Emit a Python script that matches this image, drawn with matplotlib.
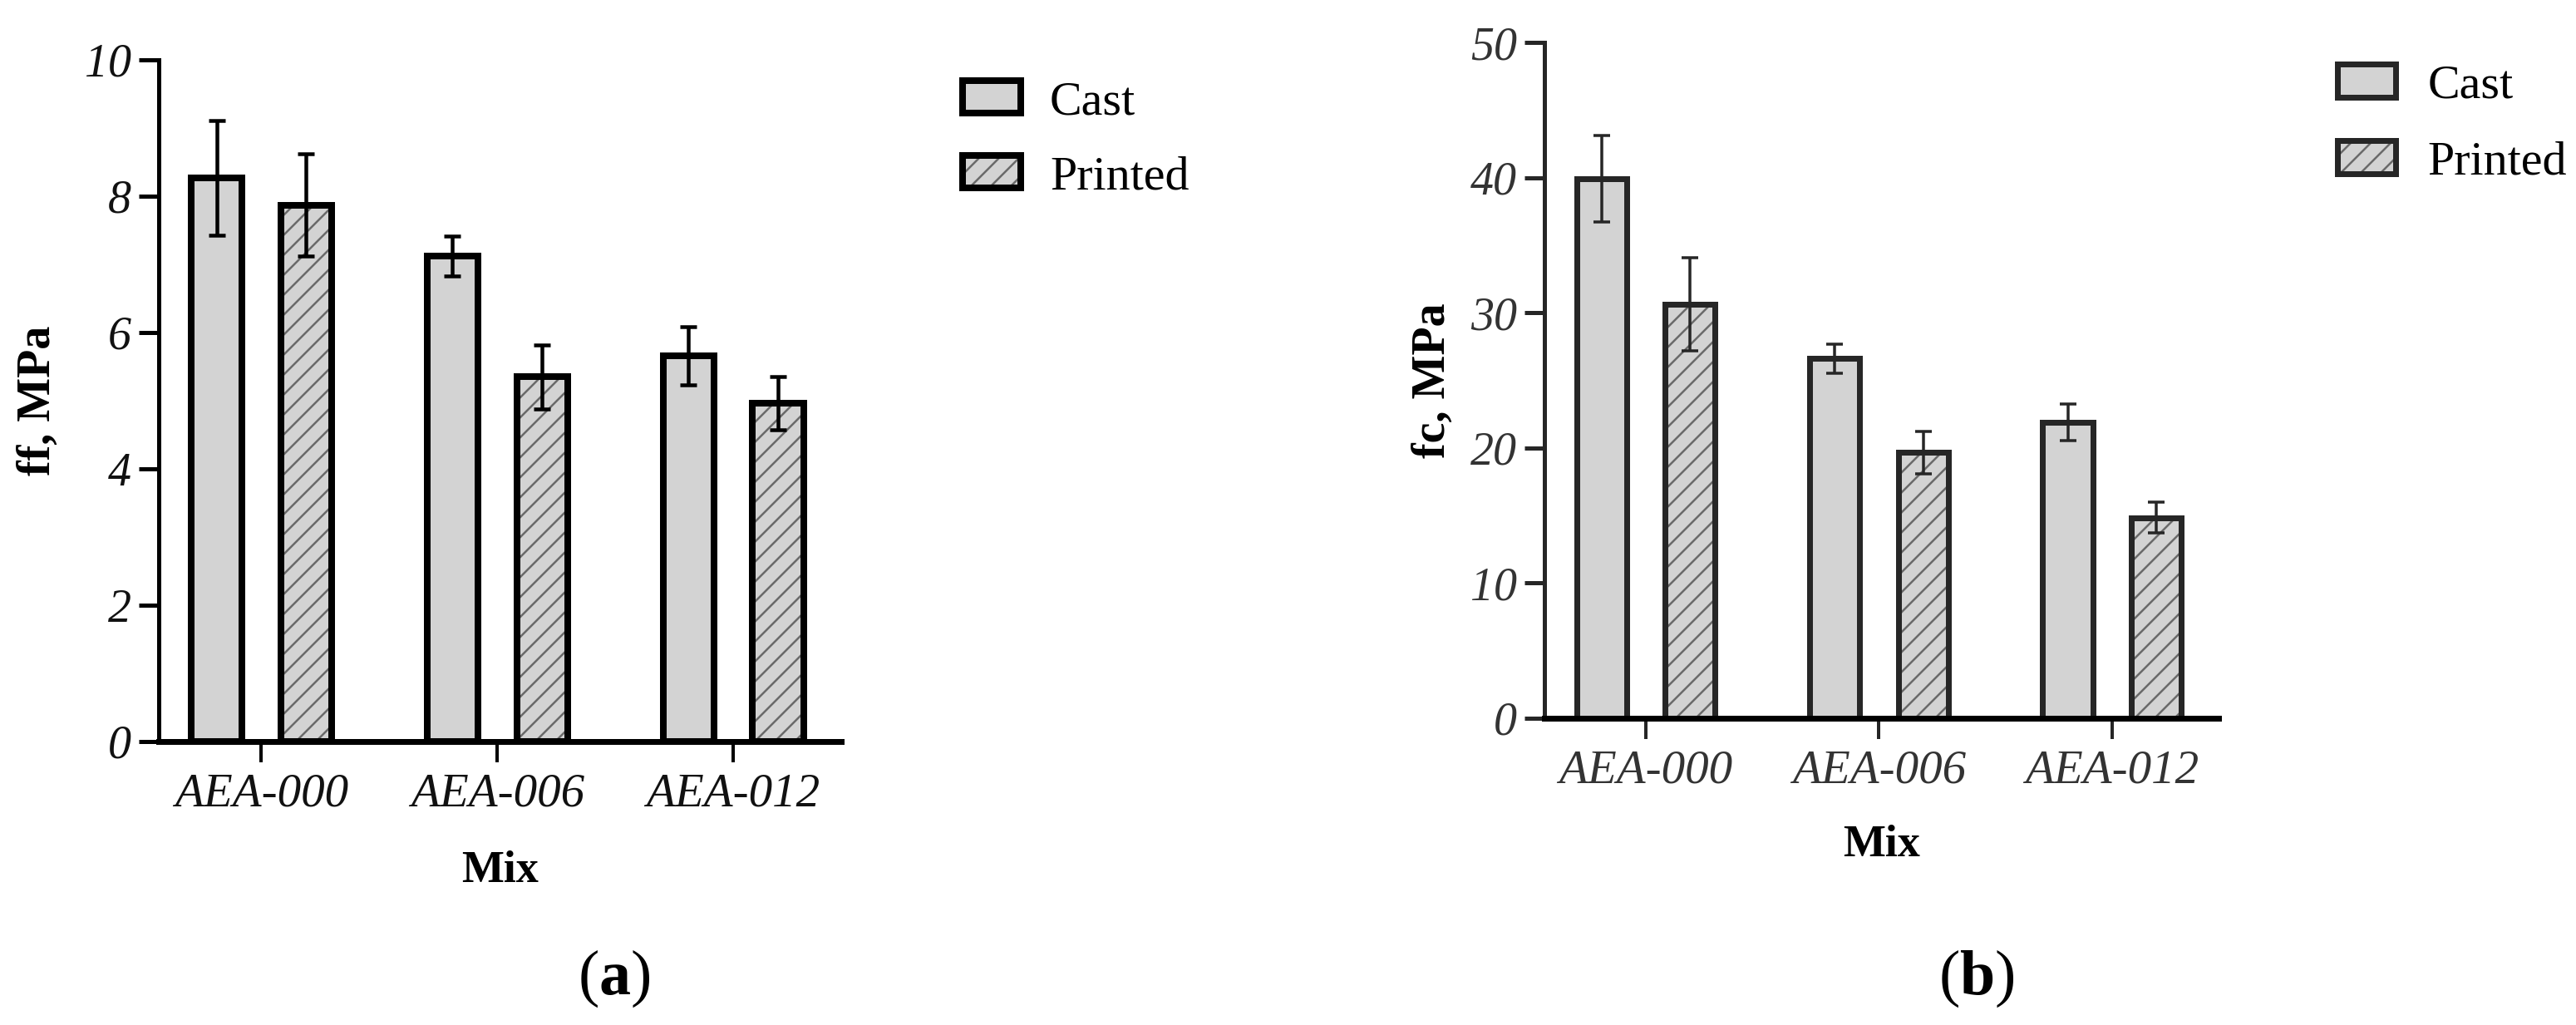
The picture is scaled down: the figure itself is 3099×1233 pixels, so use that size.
import numpy as np
import matplotlib
matplotlib.use("Agg")
import matplotlib.pyplot as plt

# values (mean and +/- error)
mixes = ["AEA-000", "AEA-006", "AEA-012"]

ff_cast = [8.27, 7.12, 5.66]
ff_cast_err = [0.84, 0.29, 0.43]
ff_printed = [7.87, 5.35, 4.96]
ff_printed_err = [0.75, 0.47, 0.39]

fc_cast = [39.9, 26.6, 21.9]
fc_cast_err = [3.2, 1.1, 1.35]
fc_printed = [30.65, 19.65, 14.85]
fc_printed_err = [3.45, 1.55, 1.15]

plt.rcParams["font.family"] = ["Liberation Serif", "DejaVu Serif"]
plt.rcParams["mathtext.fontset"] = "custom"
plt.rcParams["mathtext.rm"] = "Liberation Serif"
plt.rcParams["mathtext.bf"] = "Liberation Serif:bold"
plt.rcParams["hatch.linewidth"] = 2.5

# dpi 72 -> 1 pt == 1 px, and '/' hatch spacing of 12 px
DPI = 72
W, H = 3099, 1233
fig = plt.figure(figsize=((W + 0.2) / DPI, H / DPI), dpi=DPI)

FILL = "#d3d3d3"
HATCH = "#6a6a6a"


def panel(ax, cast, cast_err, printed, printed_err, yticks, ylabel, edge,
          lw, elw, ylab_x, xlab_y, tick_color):
    x = np.arange(len(mixes))
    off, w = 0.19, 0.215
    c_fill = ax.bar(x - off, cast, w, color=FILL, lw=0, zorder=2)
    p_fill = ax.bar(x + off, printed, w, color=FILL, edgecolor=HATCH, lw=0,
                    hatch="/", zorder=2)
    c_edge = ax.bar(x - off, cast, w, facecolor="none", edgecolor=edge, lw=lw,
                    zorder=3)
    p_edge = ax.bar(x + off, printed, w, facecolor="none", edgecolor=edge,
                    lw=lw, zorder=3)
    ax.errorbar(x - off, cast, yerr=cast_err, fmt="none", ecolor=edge,
                elinewidth=elw, capsize=10, capthick=elw, zorder=4)
    ax.errorbar(x + off, printed, yerr=printed_err, fmt="none", ecolor=edge,
                elinewidth=elw, capsize=10, capthick=elw, zorder=4)

    ax.set_xlim(-0.435, 2.458)
    ax.set_ylim(0, yticks[-1])
    ax.set_xticks(x)
    ax.set_xticklabels(mixes, fontstyle="italic", fontsize=57)
    ax.set_yticks(yticks)
    ax.set_yticklabels([str(t) for t in yticks], fontstyle="italic",
                       fontsize=56)
    ax.tick_params(axis="y", length=24, width=5, pad=9, color=edge,
                   labelcolor=tick_color)
    ax.tick_params(axis="x", length=25, width=4, pad=12, color=edge,
                   labelcolor=tick_color)
    for s in ["top", "right"]:
        ax.spines[s].set_visible(False)
    ax.spines["left"].set_linewidth(5)
    ax.spines["bottom"].set_linewidth(7)
    ax.spines["left"].set_color(edge)
    ax.spines["bottom"].set_color("black")
    ax.spines["bottom"].set_zorder(5)

    ax.set_xlabel("Mix", fontweight="bold", fontsize=54)
    ax.xaxis.set_label_coords(0.5, xlab_y)
    ax.set_ylabel(ylabel, fontweight="bold", fontsize=56)
    ax.yaxis.set_label_coords(ylab_x, 0.5)
    return (c_fill.patches[0], c_edge.patches[0]), (p_fill.patches[0], p_edge.patches[0])


ax1 = fig.add_axes([191 / W, 1 - 892 / H, 821 / W, 820 / H])
h1 = panel(ax1, ff_cast, ff_cast_err, ff_printed, ff_printed_err,
           [0, 2, 4, 6, 8, 10], "ff, MPa", "black", 8, 4.5, -0.145, -0.16,
           "#111111")
ax1.legend(h1, ["Cast", "Printed"], loc="upper left",
           bbox_to_anchor=(1158 / W, 1 - 97 / H), bbox_transform=fig.transFigure,
           frameon=False, fontsize=58, handlelength=1.21, handleheight=0.66,
           handletextpad=0.6, labelspacing=0.66, borderpad=0,
           borderaxespad=0)

ax2 = fig.add_axes([1858 / W, 1 - 864 / H, 811 / W, 813 / H])
h2 = panel(ax2, fc_cast, fc_cast_err, fc_printed, fc_printed_err,
           [0, 10, 20, 30, 40, 50], "fc, MPa", "#262626", 7, 3.5, -0.134,
           -0.157, "#333333")
ax2.legend(h2, ["Cast", "Printed"], loc="upper left",
           bbox_to_anchor=(2812 / W, 1 - 77 / H), bbox_transform=fig.transFigure,
           frameon=False, fontsize=58, handlelength=1.21, handleheight=0.69,
           handletextpad=0.66, labelspacing=0.68, borderpad=0,
           borderaxespad=0)

fig.text(739 / W, 1 - 1177 / H, r"($\mathbf{a}$)", fontsize=76,
         ha="center", va="center")
fig.text(2378 / W, 1 - 1177 / H, r"($\mathbf{b}$)", fontsize=76,
         ha="center", va="center")

fig.savefig("out.png", dpi=DPI)
